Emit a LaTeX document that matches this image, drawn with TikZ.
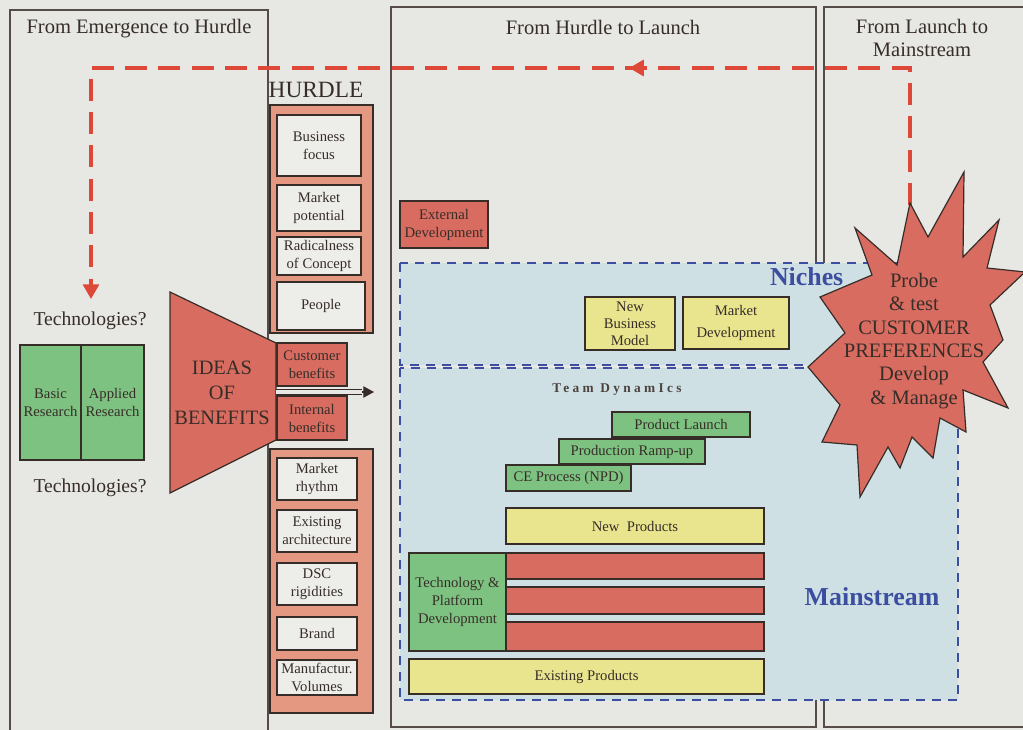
\documentclass[tikz,border=0pt]{standalone}
\usepackage{fontspec}
\setmainfont{Liberation Serif}
\usetikzlibrary{arrows.meta,decorations.markings}

\definecolor{paper}{RGB}{231,231,228}
\definecolor{ink}{RGB}{55,45,40}
\definecolor{salmon}{RGB}{228,152,130}
\definecolor{brick}{RGB}{216,108,96}
\definecolor{leaf}{RGB}{126,194,130}
\definecolor{straw}{RGB}{233,229,142}
\definecolor{mist}{RGB}{207,224,228}
\definecolor{navy}{RGB}{60,78,160}
\definecolor{signal}{RGB}{222,72,56}
\definecolor{chalk}{RGB}{237,237,234}

% a box given by its corners (in px units of the picture)
\newcommand\boxat[7]{%
  \node[#2,minimum width={(#5-#3)*0.75pt},minimum height={(#6-#4)*0.75pt}]
    (#1) at ({(#3+#5)/2},{(#4+#6)/2}) {#7};}

\tikzset{
  panel/.style={draw=ink!85,line width=0.8pt},
  title/.style={font=\fontsize{15.4}{17.5}\selectfont,align=center,text=ink},
  boxbase/.style={draw=ink,line width=0.9pt,inner sep=0pt,align=center,
    text=ink,font=\fontsize{11}{13.5}\selectfont},
  frame/.style={boxbase,fill=salmon},
  wbox/.style={boxbase,fill=chalk},
  rbox/.style={boxbase,fill=brick},
  gbox/.style={boxbase,fill=leaf},
  ybox/.style={boxbase,fill=straw},
  zone/.style={fill=mist,draw=navy,line width=2pt,dash pattern=on 7pt off 5pt},
  zonelabel/.style={font=\bfseries\fontsize{19.4}{22}\selectfont,text=navy},
  feedback/.style={draw=signal,line width=2.4pt,dash pattern=on 16.5pt off 8.5pt,
    -{Triangle[length=11pt,width=12pt]},
    postaction={decorate,decoration={markings,
      mark=at position 0.352 with {\pgfsetdash{}{0pt}\arrow[signal]{Triangle[length=11pt,width=12pt]}}}}},
}

\begin{document}
\begin{tikzpicture}[x=0.75pt,y=-0.75pt]
\useasboundingbox (0,0) rectangle (1023,730);
\clip (0,0) rectangle (1023,730);
\fill[paper] (0,0) rectangle (1023,730);

% three phase panels
\draw[panel] (10,10) rectangle (268,760);
\draw[panel] (391,7) rectangle (816,727);
\draw[panel] (824,7) rectangle (1060,727);
\node[title] (t1) at (139,29) {From Emergence to Hurdle};
\node[title] (t2) at (603,27) {From Hurdle to Launch};
\node[title] (t3) at (922,38) {From Launch to\\Mainstream};

% hurdle column
\node[font=\fontsize{17.5}{20}\selectfont,text=ink] (hurdle) at (316,90) {HURDLE};
\boxat{hurdleA}{frame}{270}{105}{373}{333}{}
\boxat{bf}{wbox}{277}{115}{361}{176}{Business\\focus}
\boxat{mp}{wbox}{277}{185}{361}{231}{Market\\potential}
\boxat{rc}{wbox}{277}{237}{361}{275}{Radicalness\\of Concept}
\boxat{pp}{wbox}{277}{282}{365}{330}{People}
\boxat{cb}{rbox}{277}{343}{347}{386}{Customer\\benefits}
\boxat{ib}{rbox}{277}{396}{347}{440}{Internal\\benefits}
\boxat{hurdleB}{frame}{270}{449}{373}{713}{}
\boxat{mr}{wbox}{277}{458}{357}{500}{Market\\rhythm}
\boxat{ea}{wbox}{277}{510}{357}{552}{Existing\\architecture}
\boxat{dr}{wbox}{277}{563}{357}{605}{DSC\\rigidities}
\boxat{brand}{wbox}{277}{617}{357}{650}{Brand}
\boxat{mv}{wbox}{277}{660}{357}{695}{Manufactur.\\Volumes}

% research sources
\node[font=\fontsize{14.7}{17}\selectfont,text=ink] (tech1) at (90,321) {Technologies?};
\node[font=\fontsize{14.7}{17}\selectfont,text=ink] (tech2) at (90,488) {Technologies?};
\boxat{basic}{gbox}{20}{345}{81}{460}{Basic\\Research}
\boxat{applied}{gbox}{81}{345}{144}{460}{Applied\\Research}

% funnel of ideas
\draw[draw=ink,line width=0.9pt,fill=brick] (170,292) -- (276,343) -- (276,440) -- (170,493) -- cycle;
\node[font=\fontsize{15.3}{18.7}\selectfont,align=center,text=ink] (ideas) at (222,393) {IDEAS\\OF\\BENEFITS};
\coordinate (mouth) at (276,392);
\coordinate (shaftend) at (362,392);
\coordinate (outtip) at (374,392);
\draw[draw=ink,line width=0.8pt,double=paper,double distance=3.4pt] (mouth) -- (shaftend);
\draw[draw=ink,line width=0.8pt,-{Triangle[length=8pt,width=8.5pt]}] (shaftend) -- (outtip);

% launch phase
\boxat{ext}{rbox}{400}{201}{488}{248}{External\\Development}
\path[zone] (400,263) rectangle (958,365);
\path[zone] (400,368) rectangle (958,700);
\node[zonelabel,anchor=east] (niches) at (848,277) {Niches};
\node[zonelabel] (mainstream) at (872,597) {Mainstream};
\boxat{nbm}{ybox,font=\fontsize{11}{12.8}\selectfont}{585}{297}{675}{350}{New\\Business\\Model}
\boxat{md}{ybox,font=\fontsize{11}{16.5}\selectfont}{683}{297}{789}{349}{Market\\Development}

\node[font=\bfseries\fontsize{10}{12}\selectfont\addfontfeature{LetterSpace=25},text=ink!90] (team) at (617,390) {Team DynamIcs};
\boxat{pl}{gbox}{612}{412}{750}{437}{Product Launch}
\boxat{pr}{gbox}{559}{439}{705}{464}{Production Ramp-up}
\boxat{ce}{gbox}{506}{465}{631}{491}{CE Process (NPD)}
\boxat{np}{ybox}{506}{508}{764}{544}{New\enspace Products}
\boxat{tpd}{gbox}{409}{553}{506}{651}{Technology \&\\Platform\\Development}
\boxat{bar1}{rbox}{506}{553}{764}{579}{}
\boxat{bar2}{rbox}{506}{587}{764}{614}{}
\boxat{bar3}{rbox}{506}{622}{764}{651}{}
\boxat{ep}{ybox}{409}{659}{764}{694}{Existing Products}

% feedback loop from the market back to technologies
\coordinate (fbstart) at (910,205);
\coordinate (fbright) at (910,68);
\coordinate (fbleft) at (91,68);
\coordinate (fbend) at (91,299);
\draw[feedback] (fbstart) -- (fbright) -- (fbleft) -- (fbend);

% burst
\draw[draw=ink,line width=0.9pt,fill=brick]
  (964,172) -- (963,257) -- (999,220) -- (987,268) -- (1025,272) -- (990,305)
  -- (1003,340) -- (983,362) -- (1008,408) -- (963,390) -- (966,432) -- (940,418)
  -- (933,458) -- (912,437) -- (900,468) -- (888,447) -- (860,497) -- (857,445)
  -- (822,442) -- (840,405) -- (808,367) -- (845,333) -- (820,297) -- (872,275)
  -- (855,228) -- (897,265) -- (910,203) -- (928,237) -- cycle;
\node[font=\fontsize{15.4}{17.5}\selectfont,align=center,text=ink] (probe) at (914,341)
  {Probe\\\& test\\CUSTOMER\\PREFERENCES\\Develop\\\& Manage};
\end{tikzpicture}
\end{document}
